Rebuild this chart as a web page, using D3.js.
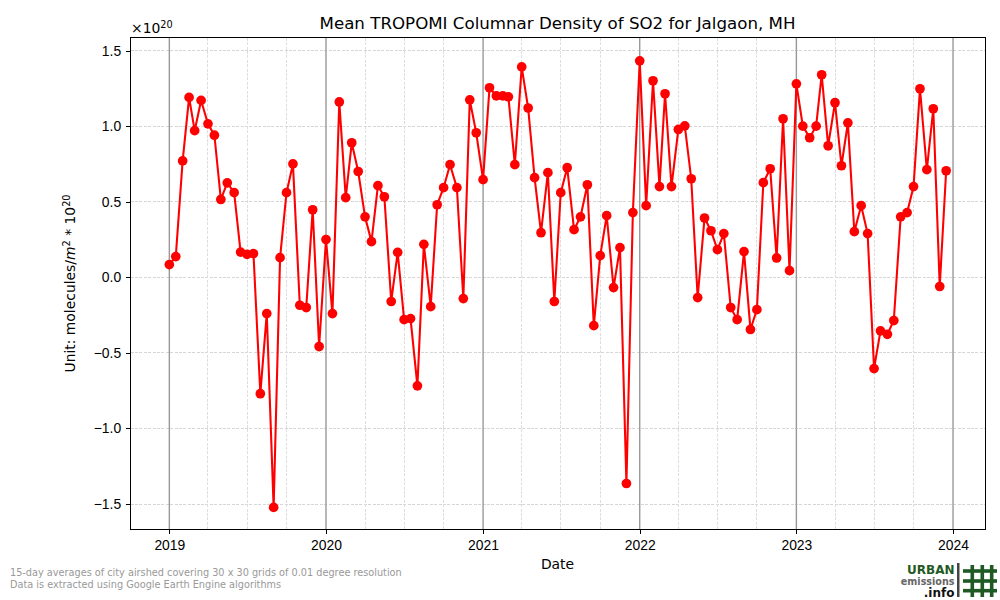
<!DOCTYPE html>
<html>
<head>
<meta charset="utf-8">
<script src="https://cdn.jsdelivr.net/npm/d3@7"></script>
<style>
  html, body { margin: 0; padding: 0; background: #fff; }
  svg { display: block; font-family: "DejaVu Sans", sans-serif; }
  .tick text { font-size: 13.9px; fill: #000; }
  .grid line, .tick line, .frame { shape-rendering: crispEdges; }
</style>
</head>
<body>
<svg width="1000" height="600"></svg>
<script>
// Half-monthly periods, values in units of 1e20
const years = [2019, 2020, 2021, 2022, 2023];
const periods = ["01-01", "01-16", "02-01", "02-16", "03-01", "03-16", "04-01", "04-16",
  "05-01", "05-16", "06-01", "06-16", "07-01", "07-16", "08-01", "08-16",
  "09-01", "09-16", "10-01", "10-16", "11-01", "11-16", "12-01", "12-16"];
const values2019 = [0.084, 0.137, 0.77, 1.19, 0.97, 1.17, 1.015, 0.94,
  0.515, 0.625, 0.56, 0.167, 0.152, 0.157, -0.77, -0.24,
  -1.522, 0.13, 0.56, 0.75, -0.185, -0.2, 0.447, -0.458];
const values2020 = [0.25, -0.24, 1.16, 0.527, 0.89, 0.70, 0.40, 0.236,
  0.606, 0.533, -0.16, 0.165, -0.28, -0.273, -0.718, 0.218,
  -0.194, 0.48, 0.593, 0.745, 0.593, -0.141, 1.174, 0.956];
const values2021 = [0.646, 1.254, 1.20, 1.20, 1.194, 0.745, 1.392, 1.12,
  0.659, 0.295, 0.692, -0.16, 0.56, 0.725, 0.315, 0.40,
  0.612, -0.32, 0.143, 0.408, -0.068, 0.196, -1.364, 0.428];
const values2022 = [1.432, 0.474, 1.30, 0.60, 1.214, 0.60, 0.978, 1.002,
  0.652, -0.134, 0.392, 0.308, 0.183, 0.289, -0.2, -0.28,
  0.17, -0.345, -0.214, 0.626, 0.718, 0.128, 1.049, 0.044];
const values2023 = [1.28, 1.0, 0.923, 1.0, 1.34, 0.87, 1.155, 0.738,
  1.022, 0.302, 0.474, 0.289, -0.604, -0.354, -0.377, -0.286,
  0.40, 0.428, 0.60, 1.247, 0.712, 1.115, -0.061, 0.705];
const yearTicks = ["2019-01-01", "2020-01-01", "2021-01-01", "2022-01-01", "2023-01-01", "2024-01-01"];
const quarterTicks = ["04-01", "07-01", "10-01"];
const yTicks = [-1.5, -1.0, -0.5, 0.0, 0.5, 1.0, 1.5];
const yLimits = [-1.667, 1.585];

const allValues = [values2019, values2020, values2021, values2022, values2023];
const data = [];
years.forEach((yr, i) => {
  periods.forEach((p, j) => {
    data.push({ date: new Date(`${yr}-${p}T00:00:00Z`), value: allValues[i][j] });
  });
});

const margin = { top: 37.7, right: 15, bottom: 70.7, left: 130.5 };
const width = 1000 - margin.left - margin.right;
const height = 600 - margin.top - margin.bottom;

const svg = d3.select("svg");
const g = svg.append("g")
  .attr("transform", `translate(${margin.left}, ${margin.top})`);

// 5% margin round the dates, like matplotlib
const xExt = d3.extent(data, d => +d.date);
const xPad = (xExt[1] - xExt[0]) * 0.05;
const xScale = d3.scaleUtc()
  .domain([new Date(xExt[0] - xPad), new Date(xExt[1] + xPad)])
  .range([0, width]);
const yScale = d3.scaleLinear()
  .domain(yLimits)
  .range([height, 0]);

const yearDates = yearTicks.map(d => new Date(d + "T00:00:00Z"));
const quarterDates = [];
years.concat([2024]).forEach(yr => {
  quarterTicks.forEach(q => quarterDates.push(new Date(`${yr}-${q}T00:00:00Z`)));
});

// Grid lines
g.append("g").attr("class", "grid").selectAll("line")
  .data(yTicks)
  .join("line")
  .attr("x1", 0).attr("x2", width)
  .attr("y1", d => yScale(d)).attr("y2", d => yScale(d))
  .attr("stroke", "#d6d6d6").attr("stroke-width", 1).attr("stroke-dasharray", "3,1.4");
g.append("g").attr("class", "grid").selectAll("line")
  .data(quarterDates.filter(d => xScale(d) < width))
  .join("line")
  .attr("x1", d => xScale(d)).attr("x2", d => xScale(d))
  .attr("y1", 0).attr("y2", height)
  .attr("stroke", "#dedede").attr("stroke-width", 1).attr("stroke-dasharray", "3,1.4");
g.append("g").selectAll("line")
  .data(yearDates)
  .join("line")
  .attr("x1", d => xScale(d)).attr("x2", d => xScale(d))
  .attr("y1", 0).attr("y2", height)
  .attr("stroke", "#999999").attr("stroke-width", 1.4);

// Line and markers
const line = d3.line()
  .x(d => xScale(d.date))
  .y(d => yScale(d.value));
g.append("path")
  .datum(data)
  .attr("fill", "none")
  .attr("stroke", "#ff0000")
  .attr("stroke-width", 2.08)
  .attr("d", line);
g.append("g").selectAll("circle")
  .data(data)
  .join("circle")
  .attr("cx", d => xScale(d.date))
  .attr("cy", d => yScale(d.value))
  .attr("r", 4.85)
  .attr("fill", "#ff0000");

// Axes
g.append("g")
  .attr("transform", `translate(0, ${height})`)
  .call(d3.axisBottom(xScale).tickValues(yearDates).tickFormat(d3.utcFormat("%Y")).tickSize(4.9).tickPadding(6))
  .call(a => a.select(".domain").remove());
g.append("g")
  .call(d3.axisLeft(yScale).tickValues(yTicks).tickFormat(d3.format(".1f")).tickSize(4.9).tickPadding(4.5))
  .call(a => a.select(".domain").remove());
g.selectAll(".tick line").attr("stroke", "#000").attr("stroke-width", 1);

g.append("rect")
  .attr("class", "frame")
  .attr("width", width).attr("height", height)
  .attr("fill", "none").attr("stroke", "#000").attr("stroke-width", 1);

// Title and labels
svg.append("text")
  .attr("x", 557.5).attr("y", 29)
  .attr("text-anchor", "middle").attr("font-size", 16.67)
  .text("Mean TROPOMI Columnar Density of SO2 for Jalgaon, MH");
svg.append("text")
  .attr("x", 557.5).attr("y", 569)
  .attr("text-anchor", "middle").attr("font-size", 13.9)
  .text("Date");

const offset = svg.append("text").attr("x", 131).attr("y", 33).attr("font-size", 13.9);
offset.append("tspan").text("\u00d710");
offset.append("tspan").attr("font-size", 9.7).attr("dy", -5).text("20");

const yLabel = svg.append("text")
  .attr("transform", "translate(75, 283.5) rotate(-90)")
  .attr("text-anchor", "middle").attr("font-size", 13.9);
yLabel.append("tspan").text("Unit: molecules/");
yLabel.append("tspan").attr("font-style", "italic").text("m");
yLabel.append("tspan").attr("font-size", 9.7).attr("dy", -5).text("2");
yLabel.append("tspan").attr("dy", 5).text(" * 10");
yLabel.append("tspan").attr("font-size", 9.7).attr("dy", -5).text("20");

// Footnote
const notes = ["15-day averages of city airshed covering 30 x 30 grids of 0.01 degree resolution",
  "Data is extracted using Google Earth Engine algorithms"];
svg.append("g").selectAll("text")
  .data(notes)
  .join("text")
  .attr("x", 10)
  .attr("y", (d, i) => 576 + i * 12)
  .attr("font-size", 9.72)
  .attr("fill", "#999999")
  .text(d => d);

// Logo
const logo = svg.append("g").attr("font-weight", "bold").attr("text-anchor", "end");
logo.append("text").attr("x", 954.5).attr("y", 573.5).attr("font-size", 12).attr("fill", "#1f5a24").text("URBAN");
logo.append("text").attr("x", 954.5).attr("y", 584.5).attr("font-size", 9.6).attr("fill", "#666666").text("emissions");
logo.append("text").attr("x", 954.5).attr("y", 597).attr("font-size", 12).attr("fill", "#111111").text(".info");
logo.append("rect").attr("x", 957).attr("y", 563).attr("width", 2.5).attr("height", 34).attr("fill", "#444444");
[972.3, 982.3, 991.7].forEach(x => {
  logo.append("rect").attr("x", x - 1.8).attr("y", 565).attr("width", 3.6).attr("height", 32).attr("fill", "#1f5a24");
});
[571, 581, 590.7].forEach(y => {
  logo.append("rect").attr("x", 963).attr("y", y - 1.8).attr("width", 34).attr("height", 3.6).attr("fill", "#1f5a24");
});
</script>
</body>
</html>
